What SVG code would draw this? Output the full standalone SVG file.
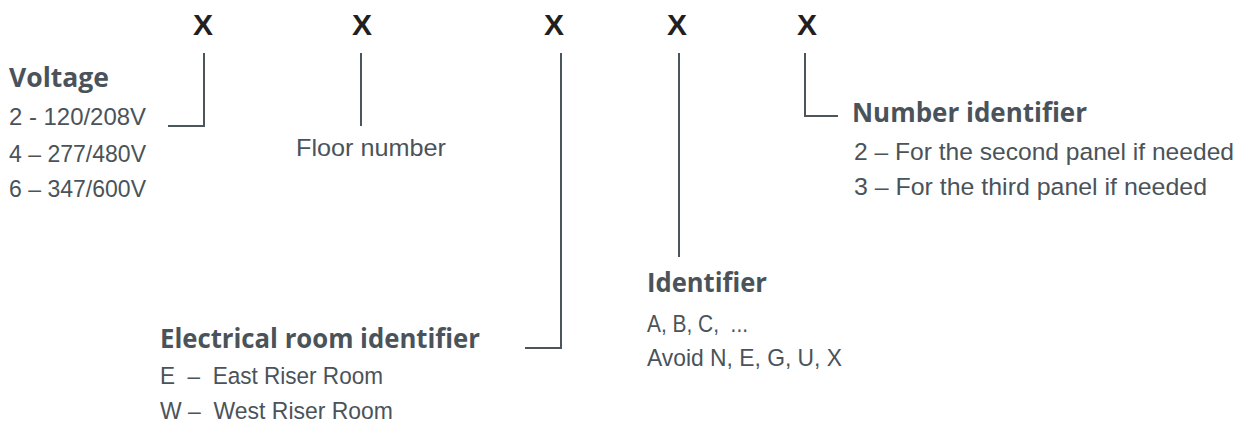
<svg xmlns="http://www.w3.org/2000/svg" width="1247" height="431" viewBox="0 0 1247 431">
<style>
.x{font-family:"Liberation Sans",Arial,sans-serif;font-weight:bold;font-size:30px;fill:#231f20;text-anchor:middle}
.h{font-family:"Open Sans","Liberation Sans",sans-serif;font-weight:bold;font-size:26.5px;fill:#4a535a}
.t{font-family:"Liberation Sans",Arial,sans-serif;font-size:24.5px;fill:#4a535a}
.c{fill:none;stroke:#4a555c;stroke-width:2}
</style>
<rect width="1247" height="431" fill="#ffffff"/>
<g id="code">
<text class="x" x="203" y="35">X</text>
<text class="x" x="362" y="35">X</text>
<text class="x" x="554" y="35">X</text>
<text class="x" x="677" y="35">X</text>
<text class="x" x="807" y="35">X</text>
</g>
<g id="connectors">
<path class="c" d="M204,53 V126 H168"/>
<path class="c" d="M361,53 V126"/>
<path class="c" d="M561,53 V348 H525"/>
<path class="c" d="M679,53 V257"/>
<path class="c" d="M805,53 V116 H838"/>
</g>
<g id="voltage">
<text class="h" x="9" y="87" textLength="100" lengthAdjust="spacingAndGlyphs">Voltage</text>
<text class="t" x="9" y="125" textLength="137" lengthAdjust="spacingAndGlyphs">2 - 120/208V</text>
<text class="t" x="9" y="162" textLength="137" lengthAdjust="spacingAndGlyphs">4 – 277/480V</text>
<text class="t" x="9" y="197" textLength="137" lengthAdjust="spacingAndGlyphs">6 – 347/600V</text>
</g>
<g id="floor">
<text class="t" x="296" y="156" textLength="150" lengthAdjust="spacingAndGlyphs">Floor number</text>
</g>
<g id="electrical-room">
<text class="h" x="160" y="348" textLength="320" lengthAdjust="spacingAndGlyphs">Electrical room identifier</text>
<text class="t" x="160" y="384" textLength="223" lengthAdjust="spacingAndGlyphs">E &#160;– &#160;East Riser Room</text>
<text class="t" x="160" y="419" textLength="233" lengthAdjust="spacingAndGlyphs">W – &#160;West Riser Room</text>
</g>
<g id="identifier">
<text class="h" x="647" y="292" textLength="120" lengthAdjust="spacingAndGlyphs">Identifier</text>
<text class="t" x="647" y="332" textLength="101" lengthAdjust="spacingAndGlyphs">A, B, C, &#160;...</text>
<text class="t" x="647" y="366" textLength="195" lengthAdjust="spacingAndGlyphs">Avoid N, E, G, U, X</text>
</g>
<g id="number-identifier">
<text class="h" x="852" y="122" textLength="235" lengthAdjust="spacingAndGlyphs">Number identifier</text>
<text class="t" x="854" y="160" textLength="380" lengthAdjust="spacingAndGlyphs">2 – For the second panel if needed</text>
<text class="t" x="854" y="195" textLength="353" lengthAdjust="spacingAndGlyphs">3 – For the third panel if needed</text>
</g>
</svg>
